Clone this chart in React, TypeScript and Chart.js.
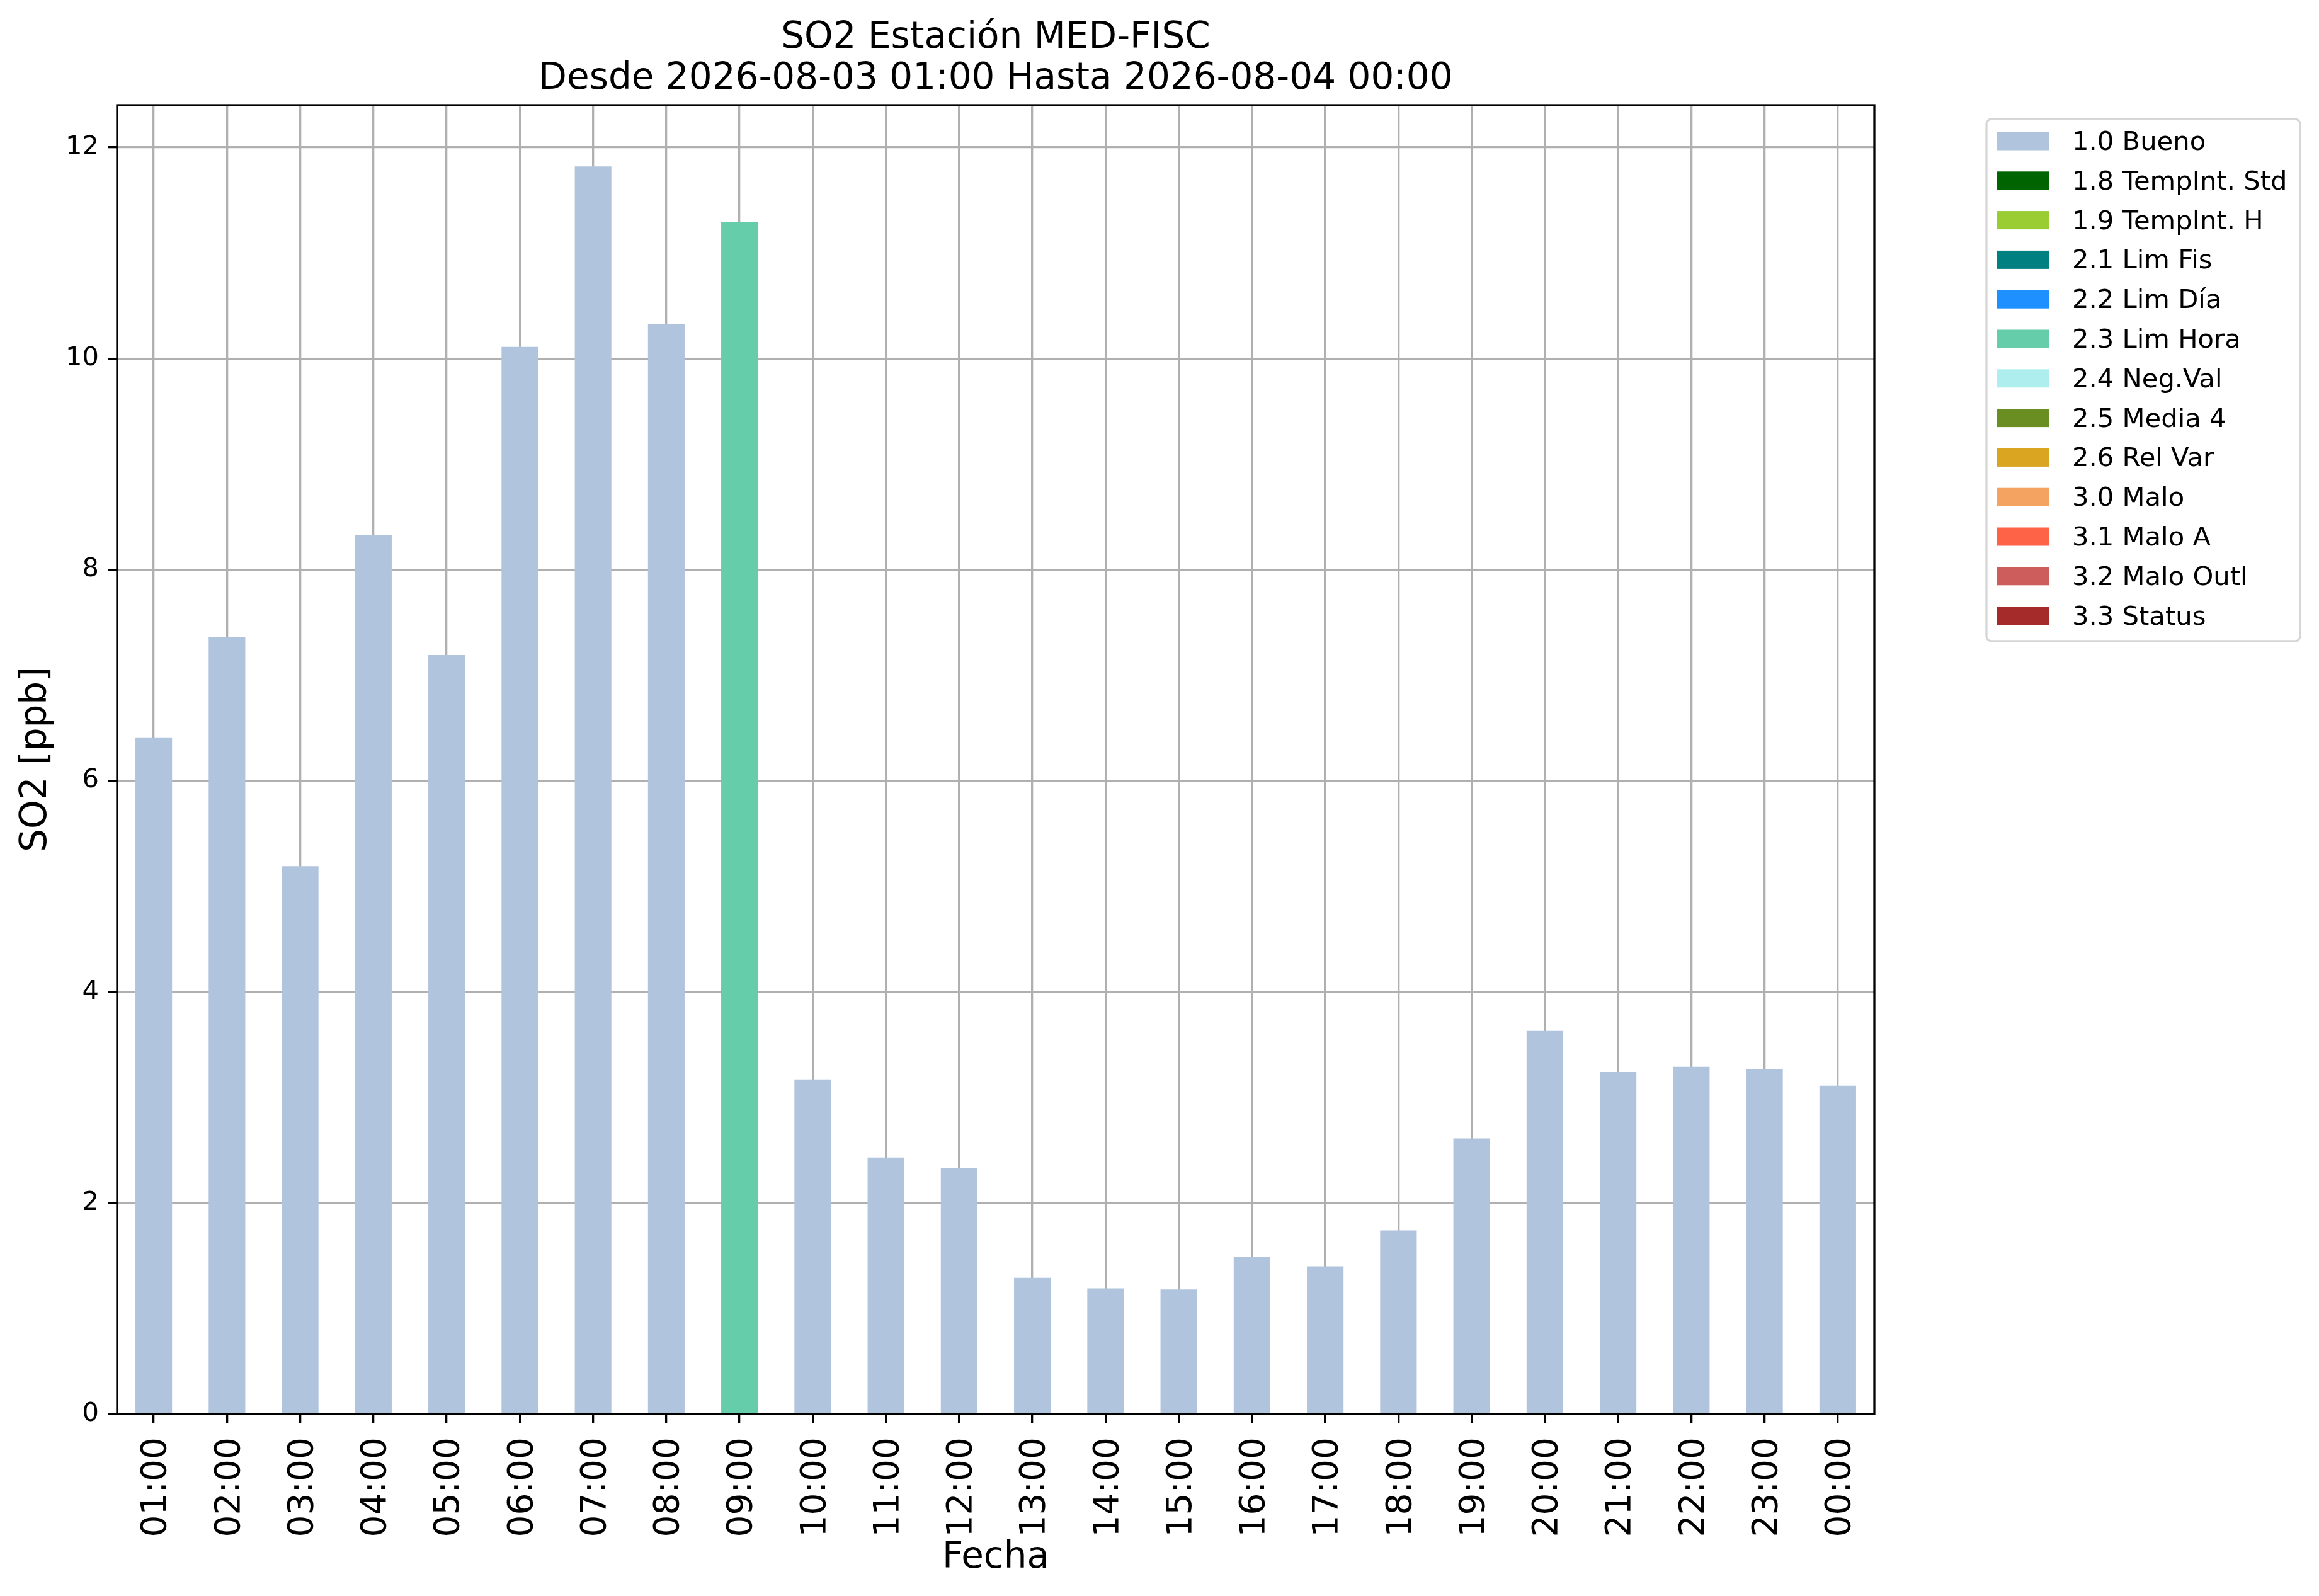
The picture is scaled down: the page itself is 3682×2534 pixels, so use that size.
import { useEffect, useRef } from "react"
import { Chart, registerables } from "chart.js"

Chart.register(...registerables)

const hours = [
  "01:00", "02:00", "03:00", "04:00", "05:00", "06:00", "07:00", "08:00",
  "09:00", "10:00", "11:00", "12:00", "13:00", "14:00", "15:00", "16:00",
  "17:00", "18:00", "19:00", "20:00", "21:00", "22:00", "23:00", "00:00",
]

// SO2 [ppb] per hour, split by validation flag
const buenoValues = [
  6.41, 7.36, 5.19, 8.33, 7.19, 10.11, 11.82, 10.33, null, 3.17, 2.43, 2.33,
  1.29, 1.19, 1.18, 1.49, 1.4, 1.74, 2.61, 3.63, 3.24, 3.29, 3.27, 3.11,
]
const limHoraValues = [
  null, null, null, null, null, null, null, null, 11.29, null, null, null,
  null, null, null, null, null, null, null, null, null, null, null, null,
]

const flagLabels = [
  "1.0 Bueno", "1.8 TempInt. Std", "1.9 TempInt. H", "2.1 Lim Fis", "2.2 Lim Día",
  "2.3 Lim Hora", "2.4 Neg.Val", "2.5 Media 4", "2.6 Rel Var", "3.0 Malo",
  "3.1 Malo A", "3.2 Malo Outl", "3.3 Status",
]
const flagColors = [
  "#B0C4DE", "#006400", "#9ACD32", "#008080", "#1E90FF", "#66CDAA", "#AFEEEE",
  "#6B8E23", "#DAA520", "#F4A460", "#FF6347", "#CD5C5C", "#A52A2A",
]
const flagSeries: Record<string, (number | null)[]> = {
  "1.0 Bueno": buenoValues,
  "2.3 Lim Hora": limHoraValues,
}

const yMax = 12.4
const yStep = 2

const FONT = "'DejaVu Sans', sans-serif"
const W = 3682
const H = 2534

// box around the axes + legend with a frame, like matplotlib
const framePlugin = {
  id: "frameAndLegend",
  afterDraw(chart: Chart) {
    const { ctx, chartArea: a } = chart
    ctx.save()
    ctx.strokeStyle = "#000"
    ctx.lineWidth = 3.3
    ctx.strokeRect(a.left, a.top, a.right - a.left, a.bottom - a.top)

    const x0 = a.right + 178
    const y0 = a.top + 22
    ctx.beginPath()
    ctx.roundRect(x0, y0, 498, 829, 8)
    ctx.fillStyle = "#fff"
    ctx.fill()
    ctx.strokeStyle = "#d6d6d6"
    ctx.stroke()

    ctx.font = `41.7px ${FONT}`
    ctx.textBaseline = "alphabetic"
    ctx.textAlign = "left"
    chart.data.datasets.forEach((ds, i) => {
      const cy = y0 + 35 + i * 62.8
      ctx.fillStyle = ds.backgroundColor as string
      ctx.fillRect(x0 + 17, cy - 14.5, 83, 29)
      ctx.fillStyle = "#000"
      ctx.fillText(ds.label as string, x0 + 136, cy + 14)
    })
    ctx.restore()
  },
}

export default function App() {
  const canvasRef = useRef<HTMLCanvasElement>(null)
  const chartRef = useRef<Chart | null>(null)

  useEffect(() => {
    document.body.style.margin = "0"
    if (!canvasRef.current) return
    if (chartRef.current) chartRef.current.destroy()

    chartRef.current = new Chart(canvasRef.current, {
      type: "bar",
      data: {
        labels: hours,
        datasets: flagLabels.map((label, i) => ({
          label,
          data: flagSeries[label] ?? hours.map(() => null),
          backgroundColor: flagColors[i],
          borderWidth: 0,
          categoryPercentage: 0.5,
          barPercentage: 1,
        })),
      },
      options: {
        animation: false,
        responsive: false,
        devicePixelRatio: 1,
        layout: { padding: { left: 0, right: W - 2976, top: 0, bottom: 0 } },
        plugins: {
          legend: { display: false },
          tooltip: { enabled: false },
          title: {
            display: true,
            fullSize: false,
            text: ["SO2 Estación MED-FISC", "Desde 2026-08-03 01:00 Hasta 2026-08-04 00:00"],
            color: "#000",
            font: { family: FONT, size: 58, weight: "normal", lineHeight: 65 / 58 },
            padding: { top: 28, bottom: 9 },
          },
        },
        scales: {
          x: {
            stacked: true,
            offset: true,
            z: 1,
            grid: {
              offset: false,
              color: "#b0b0b0",
              lineWidth: 3.3,
              tickColor: "#000",
              tickWidth: 3.3,
              tickLength: 15,
            },
            border: { display: false },
            ticks: {
              color: "#000",
              font: { family: FONT, size: 55 },
              minRotation: 90,
              maxRotation: 90,
              autoSkip: false,
              padding: 22,
              labelOffset: 5,
            },
            title: {
              display: true,
              text: "Fecha",
              color: "#000",
              font: { family: FONT, size: 58, weight: "normal", lineHeight: 1.2 },
              padding: { top: 0, bottom: 25 },
            },
            afterFit: (scale) => {
              scale.height = H - 2245
            },
          },
          y: {
            stacked: true,
            min: 0,
            max: yMax,
            z: 1,
            grid: {
              color: "#b0b0b0",
              lineWidth: 3.3,
              tickColor: "#000",
              tickWidth: 3.3,
              tickLength: 15,
            },
            border: { display: false },
            ticks: {
              stepSize: yStep,
              includeBounds: false,
              color: "#000",
              font: { family: FONT, size: 41.7 },
              padding: 14,
            },
            title: {
              display: true,
              text: "SO2 [ppb]",
              color: "#000",
              font: { family: FONT, size: 58, weight: "normal", lineHeight: 1.2 },
              padding: { top: 23, bottom: 0 },
            },
            afterFit: (scale) => {
              scale.width = 186
            },
          },
        },
      },
      plugins: [framePlugin],
    })

    return () => {
      if (chartRef.current) {
        chartRef.current.destroy()
        chartRef.current = null
      }
    }
  }, [])

  return (
    <div style={{ width: W, height: H, background: "#fff" }}>
      <canvas ref={canvasRef} width={W} height={H} style={{ width: W, height: H, display: "block" }} />
    </div>
  )
}
